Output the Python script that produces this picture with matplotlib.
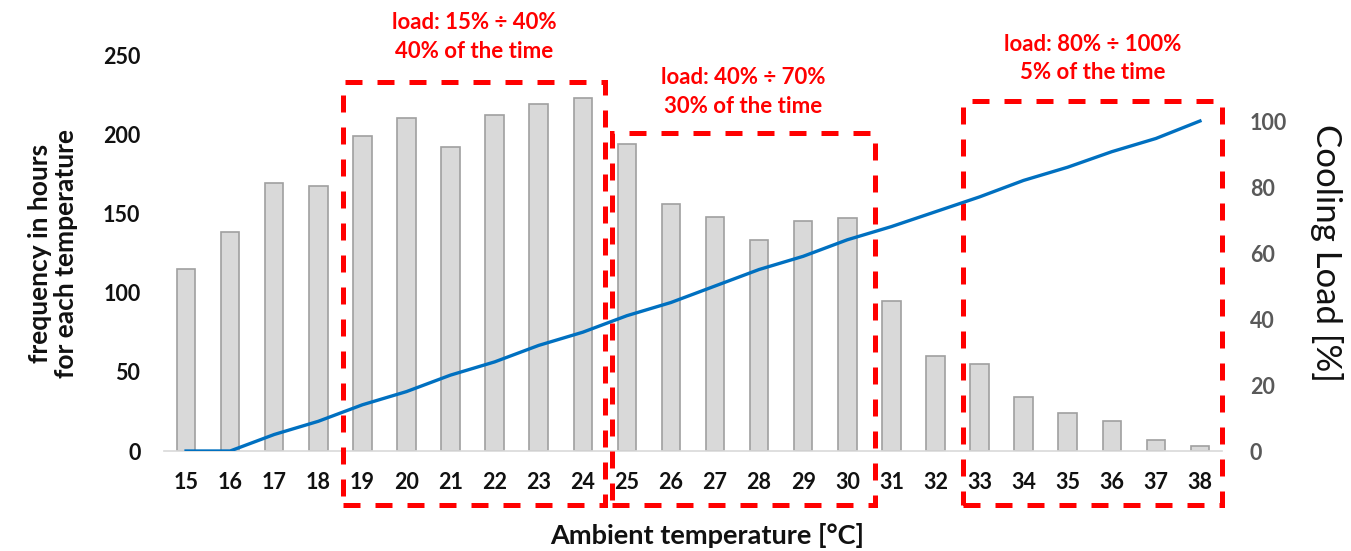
import matplotlib
matplotlib.use("Agg")
import matplotlib.pyplot as plt
from matplotlib.patches import Rectangle

# ---- data ----
temperatures = list(range(15, 39))
hours = [115, 138, 169, 167, 199, 210, 192, 212, 219, 223,
         194, 156, 148, 133, 145, 147, 95, 60, 55, 34, 24, 19, 7, 3]
cooling_load = [0, 0, 5, 9, 14, 18, 23, 27, 32, 36,
                41, 45, 50, 55, 59, 64, 68, 72.5, 77, 82, 86, 90.7, 94.7, 100]
left_ticks = [0, 50, 100, 150, 200, 250]
right_ticks = [0, 20, 40, 60, 80, 100]

# annotation boxes: (left, right in category index, top in hours)
box_ranges = [(3.56, 9.5, 233), (9.66, 15.63, 201), (17.62, 23.5, 221)]
box_bottom = -34
box_texts = ["load: 15% \u00f7 40%\n40% of the time",
             "load: 40% \u00f7 70%\n30% of the time",
             "load: 80% \u00f7 100%\n5% of the time"]

plt.rcParams['font.family'] = ['Lato', 'DejaVu Sans']

W, H = 1351, 551
fig = plt.figure(figsize=(W / 100, H / 100), dpi=100)
ax = fig.add_axes([164 / W, 1 - 451 / H, (1222 - 164) / W, (451 - 55) / H])
ax2 = ax.twinx()

x = list(range(len(temperatures)))
ax.bar(x, hours, width=0.42, color='#d9d9d9', edgecolor='#a0a0a0', linewidth=1.2, zorder=2)
ax.set_xlim(-0.5, len(temperatures) - 0.5)
ax.set_ylim(0, 250)
ax.set_yticks(left_ticks)
ax.set_xticks(x)
ax.set_xticklabels([str(t) for t in temperatures])

ax2.plot(x, cooling_load, color='#0070c0', linewidth=2.4, zorder=3)
ax2.set_ylim(0, 120)
ax2.set_yticks(right_ticks)

for a in (ax, ax2):
    for s in a.spines.values():
        s.set_visible(False)
ax.spines['bottom'].set_visible(True)
ax.spines['bottom'].set_color('#d9d9d9')
ax.spines['bottom'].set_linewidth(1.2)

ax.tick_params(axis='both', length=0, labelsize=15.5)
ax.tick_params(axis='y', pad=17)
ax.tick_params(axis='x', pad=15)
for lab in ax.get_xticklabels() + ax.get_yticklabels():
    lab.set_fontweight('bold')
    lab.set_color('#111111')
ax2.tick_params(axis='y', length=0, labelsize=15.5, pad=20, labelcolor='#595959')
for lab in ax2.get_yticklabels():
    lab.set_fontweight('bold')

ax.set_ylabel("frequency in hours\nfor each temperature", fontsize=19, fontweight='bold',
              color='#111111', labelpad=18, linespacing=1.1)
ax2.set_ylabel("Cooling Load [%]", fontsize=25, rotation=-90, color='#111111', labelpad=40)
ax.set_xlabel("Ambient temperature [\u00b0C]", fontsize=19.5, fontweight='bold',
              color='#111111', labelpad=22)
ax.xaxis.label.set_x(0.513)

text_y = [261.4, 226.6, 247.8]
for (x0, x1, top), txt, ty in zip(box_ranges, box_texts, text_y):
    r = Rectangle((x0, box_bottom), x1 - x0, top - box_bottom, fill=False,
                  edgecolor='#ff0000', linewidth=3.6, linestyle=(0, (3.4, 3)),
                  clip_on=False, zorder=5)
    ax.add_patch(r)
    ax.text((x0 + x1) / 2, ty, txt, ha='center', va='center', color='#ff0000',
            fontsize=16, fontweight='bold', linespacing=1.45, clip_on=False)

fig.savefig("out.png", dpi=100)
